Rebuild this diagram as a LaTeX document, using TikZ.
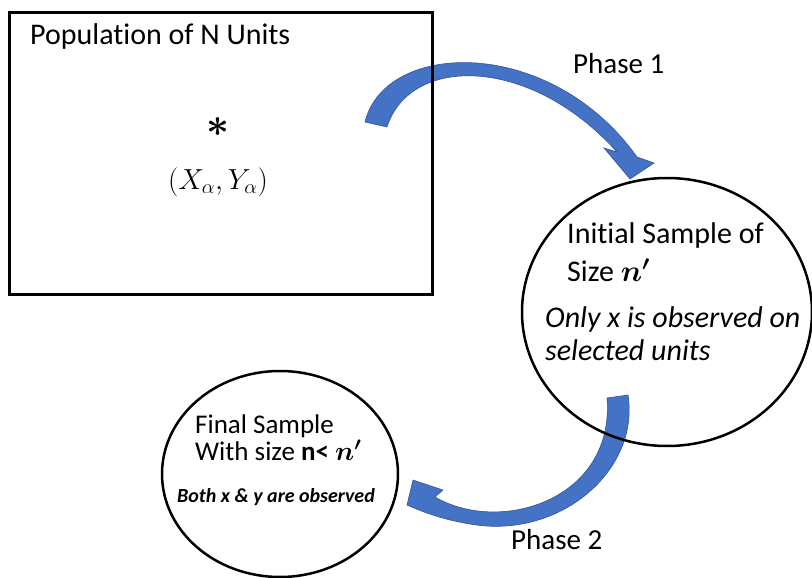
\documentclass[tikz,border=0pt]{standalone}
\usepackage{fix-cm}
\usepackage{amsmath,bm}
\usepackage{fontspec}
\setmainfont[Ligatures=CommonOff]{Carlito}
\definecolor{phaseblue}{RGB}{68,114,196}
\definecolor{phasedark}{RGB}{47,85,160}
\usetikzlibrary{shapes.geometric,positioning}

\begin{document}
\begin{tikzpicture}[x=1pt,y=-1pt,
  frame/.style={draw,line width=3pt,inner sep=0pt},
  sampleoval/.style={draw,ellipse,line width=2.5pt,inner sep=0pt},
  txt/.style={anchor=base west,inner sep=0pt},
  bigtxt/.style={txt,font=\fontsize{30}{36}\selectfont},
  phasearrow/.style={fill=phaseblue,draw=phasedark,line width=0.6pt}]
  \useasboundingbox (0,0) rectangle (812,578);
  % block arrows sit behind the outlines
  \path[phasearrow] (365,122) .. controls (385,40) and (550,35) .. (637,157)
     -- (654,163) -- (630,179) -- (604,148) -- (617,152)
     .. controls (530,55) and (410,55) .. (387,127) -- cycle;
  \path[phasearrow] (607,398) -- (628,395)
     .. controls (640,470) and (560,540) .. (470,524)
     .. controls (445,520) and (425,513) .. (407,505)
     -- (413,480) -- (443,490) -- (435,497)
     .. controls (500,535) and (615,500) .. (607,398) -- cycle;

  \node[frame,minimum width=423pt,minimum height=282pt,anchor=north west] (pop) at (8,11) {};
  \node[sampleoval,minimum width=290pt,minimum height=268pt] (init) at (667,312) {};
  \node[sampleoval,minimum width=236pt,minimum height=206pt] (final) at (280,474) {};

  \node[bigtxt] (poptitle) at (30,45) {Population of N Units};
  \node[font=\fontsize{40}{44}\selectfont] (star) at (218,127) {$\bm{\ast}$};
  \node[font=\fontsize{29}{34}\selectfont] (pair) at (218,182) {$(X_\alpha,Y_\alpha)$};

  \node[bigtxt] (inittop) at (567,243) {Initial Sample of};
  \node[bigtxt] (initsize) at (567,281) {Size \smash[t]{$\bm{n'}$}};
  \node[bigtxt,font=\fontsize{30}{36}\selectfont\itshape] (initobs) at (545,327) {Only x is observed on};
  \node[bigtxt,font=\fontsize{30}{36}\selectfont\itshape] (initunits) at (545,360) {selected units};

  \node[txt,font=\fontsize{27}{32}\selectfont] (finaltop) at (195,433) {Final Sample};
  \node[txt,font=\fontsize{27}{32}\selectfont] (finalsize) at (195,460) {With size $\mathbf{n}$\textbf{<} \smash[t]{$\bm{n'}$}};
  \node[txt,font=\fontsize{20}{24}\selectfont\bfseries\itshape] (finalobs) at (177,502) {Both x \& y are observed};

  \node[txt,font=\fontsize{29}{34}\selectfont] (phaseone) at (573,74) {Phase 1};
  \node[txt,font=\fontsize{29}{34}\selectfont] (phasetwo) at (511,549) {Phase 2};
\end{tikzpicture}
\end{document}
